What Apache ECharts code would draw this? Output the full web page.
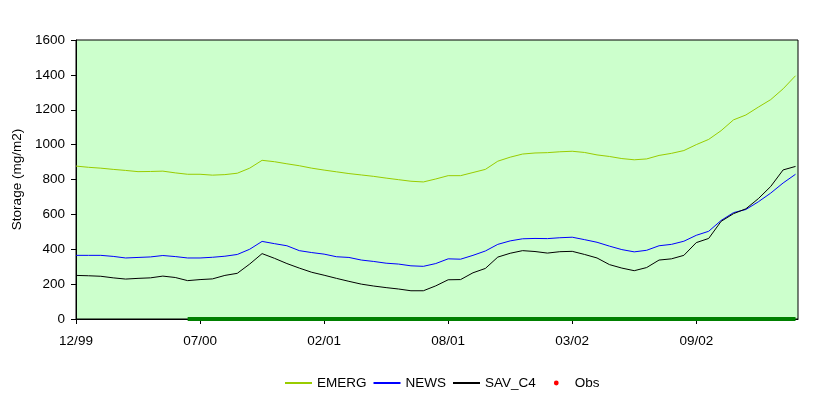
<!DOCTYPE html>
<html>
<head>
<meta charset="utf-8">
<script src="https://cdn.jsdelivr.net/npm/echarts@6/dist/echarts.min.js"></script>
<style>
  html, body { margin: 0; padding: 0; background: #fff; }
  #chart { width: 832px; height: 399px; }
</style>
</head>
<body>
<div id="chart"></div>
<script>
// x positions are sample steps, 10 steps per labelled tick
var xLabels = ['12/99', '07/00', '02/01', '08/01', '03/02', '09/02'];
var stepsPerTick = 10;

var emerg = [877, 870, 865, 858, 852, 845, 846, 848, 838, 830,
             830, 825, 828, 836, 865, 910, 902, 890, 879, 865,
             854, 844, 834, 826, 818, 808, 799, 790, 786, 803,
             822, 822, 840, 858, 905, 928, 946, 952, 954, 959,
             962, 955, 941, 932, 920, 913, 918, 938, 950, 966,
             1000, 1030, 1080, 1142, 1170, 1215, 1258, 1320, 1395];
var news  = [365, 365, 365, 359, 350, 353, 356, 364, 358, 350,
             350, 354, 360, 370, 400, 445, 432, 420, 392, 381,
             372, 357, 353, 338, 330, 320, 315, 305, 302, 318,
             345, 343, 365, 390, 428, 448, 460, 462, 461, 466,
             469, 455, 440, 418, 398, 385, 394, 420, 428, 446,
             480, 503, 565, 610, 628, 672, 722, 780, 830];
var savC4 = [250, 248, 245, 236, 229, 233, 236, 246, 238, 220,
             226, 230, 250, 262, 315, 375, 348, 318, 292, 268,
             251, 233, 216, 200, 189, 180, 172, 162, 162, 190,
             225, 226, 265, 290, 355, 377, 392, 387, 378, 386,
             388, 370, 350, 312, 292, 277, 295, 338, 345, 365,
             438, 462, 560, 604, 632, 690, 760, 855, 875];
// observations all sit on zero from step 9 onward
var obsStart = 9;
var obs = [0, 0, 0, 0, 0, 0, 0, 0, 0, 0,
           0, 0, 0, 0, 0, 0, 0, 0, 0, 0,
           0, 0, 0, 0, 0, 0, 0, 0, 0, 0,
           0, 0, 0, 0, 0, 0, 0, 0, 0, 0,
           0, 0, 0, 0, 0, 0, 0, 0, 0, 0];

function pairs(arr, offset) {
  return arr.map(function (v, i) { return [i + (offset || 0), v]; });
}

var font = 'Liberation Sans, Arial, sans-serif';
var fs = 13.5;
var tickValues = xLabels.map(function (l, i) { return i * stepsPerTick; });

var chart = echarts.init(document.getElementById('chart'));
chart.setOption({
  animation: false,
  backgroundColor: '#ffffff',
  grid: {
    left: 76, right: 34, top: 40, bottom: 80,
    show: true, backgroundColor: '#CCFFCC', borderColor: '#000', borderWidth: 1
  },
  legend: {
    left: 279, top: 371,
    itemWidth: 27, itemHeight: 6, itemGap: 6,
    textStyle: { fontFamily: font, fontSize: fs, color: '#000' },
    data: [
      { name: 'EMERG', itemStyle: { opacity: 0 } },
      { name: 'NEWS', itemStyle: { opacity: 0 } },
      { name: 'SAV_C4', itemStyle: { opacity: 0 } },
      { name: 'Obs', lineStyle: { opacity: 0 } }
    ]
  },
  xAxis: {
    type: 'value', min: 0, max: 58.2,
    splitLine: { show: false },
    axisLine: { show: true, onZero: false, lineStyle: { color: '#000', width: 1 } },
    axisTick: { show: true, length: 5, customValues: tickValues, lineStyle: { color: '#000' } },
    axisLabel: {
      customValues: tickValues, margin: 15,
      fontFamily: font, fontSize: fs, color: '#000',
      formatter: function (v) { return xLabels[Math.round(v / stepsPerTick)] || ''; }
    }
  },
  yAxis: {
    type: 'value', min: 0, max: 1600, interval: 200,
    name: 'Storage (mg/m2)', nameLocation: 'middle', nameGap: 48,
    nameTextStyle: { fontFamily: font, fontSize: fs, color: '#000' },
    splitLine: { show: false },
    axisLine: { show: true, lineStyle: { color: '#000' } },
    axisTick: { show: true, length: 5, lineStyle: { color: '#000' } },
    axisLabel: {
      margin: 11, fontFamily: font, fontSize: fs, color: '#000',
      formatter: function (v) { return String(v); }
    }
  },
  series: [
    { name: 'EMERG', type: 'line', symbol: 'none', data: pairs(emerg),
      lineStyle: { color: '#99CC00', width: 1 }, itemStyle: { color: '#99CC00' } },
    { name: 'NEWS', type: 'line', symbol: 'none', data: pairs(news),
      lineStyle: { color: '#0000FF', width: 1 }, itemStyle: { color: '#0000FF' } },
    { name: 'SAV_C4', type: 'line', symbol: 'none', data: pairs(savC4),
      lineStyle: { color: '#000000', width: 1 }, itemStyle: { color: '#000000' } },
    { name: 'Obs', type: 'line', symbol: 'circle', symbolSize: 4, showSymbol: false,
      data: pairs(obs, obsStart), z: 5,
      lineStyle: { color: '#008000', width: 4 }, itemStyle: { color: '#FF0000' } }
  ]
});
</script>
</body>
</html>
